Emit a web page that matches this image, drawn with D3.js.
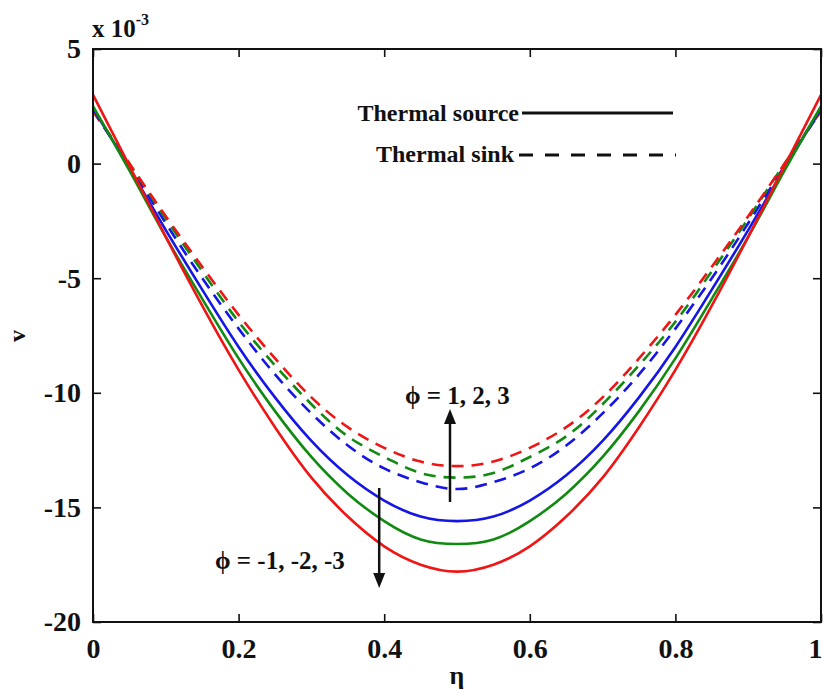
<!DOCTYPE html>
<html>
<head>
<meta charset="utf-8">
<script src="https://cdn.jsdelivr.net/npm/d3@7"></script>
<style>
  html, body { margin: 0; padding: 0; background: #fff; }
  svg { display: block; }
  text { font-family: "Liberation Serif", "Times New Roman", serif; font-weight: bold; fill: #111; }
</style>
</head>
<body>
<svg id="chart" width="823" height="691"></svg>
<script>
// ---- data (v in units of 1e-3) ----
const eta = [0, 0.05, 0.1, 0.15, 0.2, 0.25, 0.3, 0.35, 0.4, 0.45, 0.5, 0.55, 0.6, 0.65, 0.7, 0.75, 0.8, 0.85, 0.9, 0.95, 1];
const sourceRed   = [3.0, -0.1, -3.2, -6.2, -9.0, -11.5, -13.7, -15.4, -16.7, -17.5, -17.8, -17.5, -16.7, -15.4, -13.7, -11.5, -9.0, -6.2, -3.2, -0.1, 3.0];
const sourceGreen = [2.5, -0.3, -3.2, -5.9, -8.5, -10.8, -12.8, -14.4, -15.6, -16.4, -16.6, -16.4, -15.6, -14.4, -12.8, -10.8, -8.5, -5.9, -3.2, -0.3, 2.5];
const sourceBlue  = [2.4, -0.2, -2.9, -5.5, -8.0, -10.2, -12.1, -13.6, -14.7, -15.4, -15.6, -15.4, -14.7, -13.6, -12.1, -10.2, -8.0, -5.5, -2.9, -0.2, 2.4];
const sinkRed     = [2.3, 0.0, -2.3, -4.5, -6.6, -8.5, -10.2, -11.5, -12.4, -13.0, -13.2, -13.0, -12.4, -11.5, -10.2, -8.5, -6.6, -4.5, -2.3, 0.0, 2.3];
const sinkGreen   = [2.3, 0.0, -2.4, -4.7, -6.9, -8.8, -10.5, -11.9, -12.8, -13.5, -13.7, -13.5, -12.8, -11.9, -10.5, -8.8, -6.9, -4.7, -2.4, 0.0, 2.3];
const sinkBlue    = [2.3, -0.1, -2.6, -5.0, -7.2, -9.2, -10.9, -12.3, -13.3, -13.9, -14.2, -13.9, -13.3, -12.3, -10.9, -9.2, -7.2, -5.0, -2.6, -0.1, 2.3];

const xTicks = [0, 0.2, 0.4, 0.6, 0.8, 1];
const xTickLabels = ["0", "0.2", "0.4", "0.6", "0.8", "1"];
const yTicks = [5, 0, -5, -10, -15, -20];
const yTickLabels = ["5", "0", "-5", "-10", "-15", "-20"];

const seriesNames = ["Thermal source", "Thermal sink"];
const colors = { red: "#f01515", green: "#108a10", blue: "#1515e6" };

// ---- layout ----
const svg = d3.select("#chart");
const L = 93, R = 821, T = 49, B = 622;
const x = d3.scaleLinear().domain([0, 1]).range([L, R]);
const y = d3.scaleLinear().domain([-20, 5]).range([B, T]);

// curves
const series = [
  { v: sinkBlue,    c: colors.blue,  dash: true },
  { v: sinkGreen,   c: colors.green, dash: true },
  { v: sinkRed,     c: colors.red,   dash: true },
  { v: sourceBlue,  c: colors.blue,  dash: false },
  { v: sourceGreen, c: colors.green, dash: false },
  { v: sourceRed,   c: colors.red,   dash: false }
];
const line = d3.line().x((d, i) => x(eta[i])).y(d => y(d)).curve(d3.curveNatural);
svg.append("g").selectAll("path").data(series).join("path")
  .attr("d", d => line(d.v))
  .attr("fill", "none")
  .attr("stroke", d => d.c)
  .attr("stroke-width", 2.6)
  .attr("stroke-dasharray", d => d.dash ? "12,8" : null);

// axes (box with inward ticks)
const tickLen = 8;
const axB = svg.append("g").attr("transform", `translate(0,${B})`)
  .call(d3.axisBottom(x).tickValues(xTicks).tickFormat((d, i) => xTickLabels[i]).tickSizeInner(-tickLen).tickSizeOuter(0).tickPadding(16));
const axT = svg.append("g").attr("transform", `translate(0,${T})`)
  .call(d3.axisTop(x).tickValues(xTicks).tickFormat("").tickSizeInner(-tickLen).tickSizeOuter(0));
const axL = svg.append("g").attr("transform", `translate(${L},0)`)
  .call(d3.axisLeft(y).tickValues(yTicks).tickFormat((d, i) => yTickLabels[i]).tickSizeInner(-tickLen).tickSizeOuter(0).tickPadding(12));
const axR = svg.append("g").attr("transform", `translate(${R},0)`)
  .call(d3.axisRight(y).tickValues(yTicks).tickFormat("").tickSizeInner(-tickLen).tickSizeOuter(0));
[axB, axT, axL, axR].forEach(a => {
  a.selectAll("path.domain").remove();
  a.selectAll(".tick line").attr("stroke", "#111").attr("stroke-width", 1.6);
  a.selectAll("text").style("font-family", '"Liberation Serif", serif').style("font-weight", "bold")
    .style("font-size", "28px").attr("fill", "#111");
});
// keep the last x label just inside the page edge
axB.selectAll(".tick text").filter((d, i) => i === xTicks.length - 1).attr("text-anchor", "end").attr("dx", 1);
svg.append("rect").attr("x", L).attr("y", T).attr("width", R - L).attr("height", B - T)
  .attr("fill", "none").attr("stroke", "#111").attr("stroke-width", 2);

// exponent
const ex = svg.append("text").attr("x", L - 1).attr("y", 37).style("font-size", "25px");
ex.append("tspan").text("x 10");
ex.append("tspan").attr("dy", -12).style("font-size", "16px").text("-3");

// axis titles
svg.append("text").attr("x", x(0.5)).attr("y", 684).attr("text-anchor", "middle").style("font-size", "26px").text("η");
svg.append("text").attr("transform", "translate(25,336) rotate(-90)").attr("text-anchor", "middle").style("font-size", "24px").text("v");

// legend
const lg = svg.append("g");
lg.append("text").attr("x", 519).attr("y", 121).attr("text-anchor", "end").style("font-size", "24px").text(seriesNames[0]);
lg.append("line").attr("x1", 522).attr("x2", 673).attr("y1", 113).attr("y2", 113).attr("stroke", "#111").attr("stroke-width", 3);
lg.append("text").attr("x", 514).attr("y", 162).attr("text-anchor", "end").style("font-size", "24px").text(seriesNames[1]);
lg.append("line").attr("x1", 519).attr("x2", 676).attr("y1", 155).attr("y2", 155).attr("stroke", "#111").attr("stroke-width", 3)
  .attr("stroke-dasharray", "14,12");

// annotations
function arrow(x0, y0, y1) {
  const dir = y1 < y0 ? -1 : 1;
  svg.append("line").attr("x1", x0).attr("x2", x0).attr("y1", y0).attr("y2", y1 - dir * 12)
    .attr("stroke", "#111").attr("stroke-width", 2.5);
  svg.append("path").attr("d", `M${x0},${y1} L${x0 - 6},${y1 - dir * 15} L${x0 + 6},${y1 - dir * 15} Z`).attr("fill", "#111");
}
arrow(x(0.5) - 7, 502, 409);
arrow(x(0.4) - 5, 488, 588);
svg.append("text").attr("x", 405).attr("y", 404).style("font-size", "25px").text("ϕ = 1, 2, 3");
svg.append("text").attr("x", 215).attr("y", 569).style("font-size", "25px").text("ϕ = -1, -2, -3");
</script>
</body>
</html>
